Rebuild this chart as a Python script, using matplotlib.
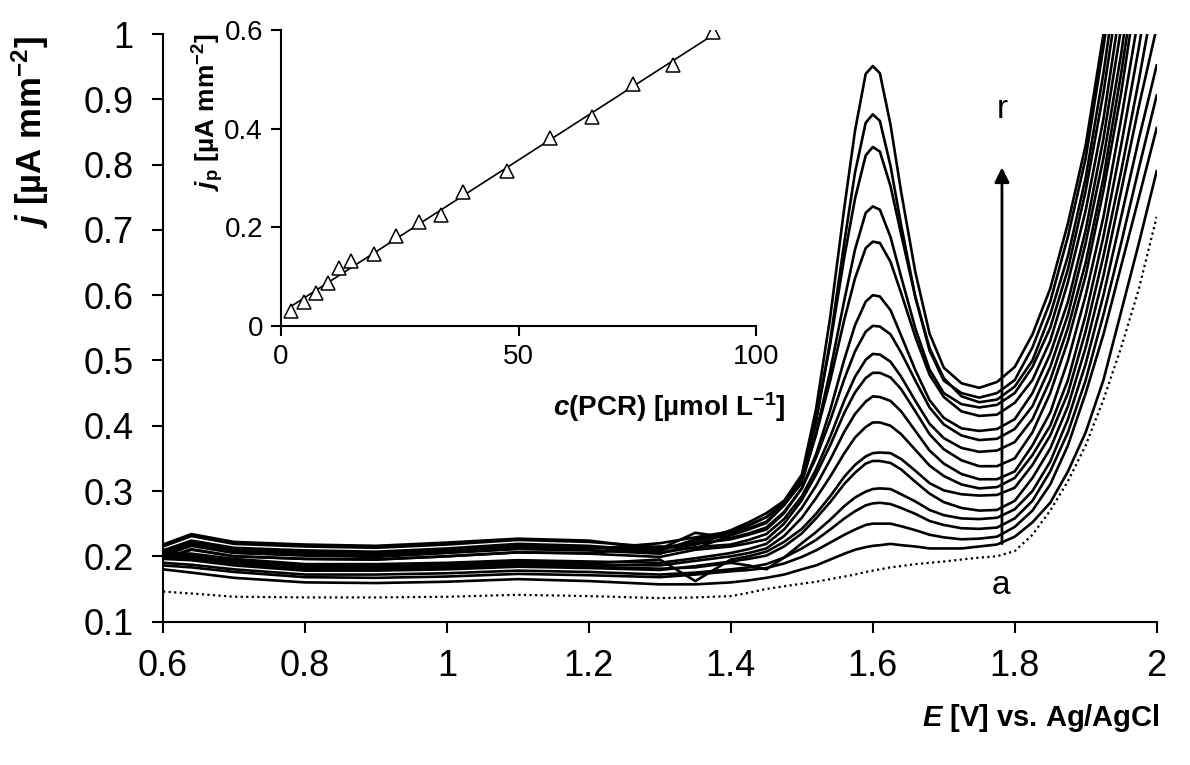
import numpy as np
import matplotlib
matplotlib.use("Agg")
import matplotlib.pyplot as plt
from matplotlib.ticker import FuncFormatter

plt.rcParams['font.family'] = ['Liberation Sans', 'DejaVu Sans']
plt.rcParams['mathtext.fontset'] = 'custom'
plt.rcParams['mathtext.rm'] = 'Liberation Sans:bold'
plt.rcParams['mathtext.it'] = 'Liberation Sans:italic:bold'
plt.rcParams['mathtext.bf'] = 'Liberation Sans:bold'

# potential grid [V]
E = [0.6, 0.64, 0.7, 0.8, 0.9, 1.0, 1.1, 1.2, 1.3, 1.35, 1.4, 1.425,
     1.45, 1.475, 1.5, 1.52, 1.54, 1.56, 1.575, 1.59, 1.6, 1.61, 1.625, 1.64, 1.66, 1.68, 1.7, 1.725, 1.75, 1.775,
     1.8, 1.825, 1.85, 1.875, 1.9, 1.925, 1.95, 1.975, 2.0]

# blank (a) and additions (b..r), current density [uA mm-2]
curve_a = [0.146, 0.143, 0.138, 0.137, 0.137, 0.138, 0.141, 0.139, 0.136, 0.137, 0.139, 0.144,
           0.150, 0.154, 0.158, 0.161, 0.165, 0.169, 0.172, 0.176, 0.178, 0.180, 0.183, 0.185, 0.188, 0.190, 0.192, 0.195, 0.198, 0.200,
           0.208, 0.233, 0.27, 0.315, 0.37, 0.44, 0.52, 0.61, 0.72]
curve_b = [0.180, 0.175, 0.167, 0.160, 0.159, 0.161, 0.165, 0.162, 0.157, 0.157, 0.160, 0.163,
           0.167, 0.172, 0.180, 0.186, 0.195, 0.204, 0.210, 0.214, 0.216, 0.217, 0.219, 0.217, 0.215, 0.212, 0.212, 0.212, 0.215, 0.218,
           0.230, 0.252, 0.282, 0.33, 0.39, 0.47, 0.575, 0.68, 0.79]
curve_c = [0.186, 0.183, 0.176, 0.168, 0.167, 0.169, 0.173, 0.171, 0.168, 0.172, 0.177, 0.179,
           0.182, 0.189, 0.199, 0.209, 0.221, 0.233, 0.241, 0.248, 0.250, 0.250, 0.250, 0.246, 0.240, 0.233, 0.229, 0.226, 0.227, 0.230,
           0.245, 0.27, 0.31, 0.37, 0.45, 0.54, 0.645, 0.75, 0.856]
curve_d = [0.190, 0.187, 0.180, 0.172, 0.172, 0.174, 0.178, 0.176, 0.172, 0.175, 0.180, 0.183,
           0.188, 0.198, 0.212, 0.225, 0.241, 0.258, 0.269, 0.278, 0.281, 0.282, 0.280, 0.274, 0.265, 0.254, 0.248, 0.243, 0.242, 0.244,
           0.258, 0.285, 0.33, 0.39, 0.47, 0.57, 0.68, 0.795, 0.906]
curve_e = [0.198, 0.196, 0.188, 0.180, 0.180, 0.182, 0.186, 0.184, 0.181, 0.183, 0.190, 0.186,
           0.180, 0.198, 0.220, 0.237, 0.256, 0.277, 0.290, 0.299, 0.303, 0.304, 0.303, 0.295, 0.284, 0.271, 0.263, 0.258, 0.257, 0.259,
           0.272, 0.30, 0.345, 0.41, 0.495, 0.60, 0.72, 0.84, 0.952]
curve_f = [0.196, 0.194, 0.186, 0.178, 0.178, 0.180, 0.184, 0.182, 0.179, 0.185, 0.192, 0.196,
           0.201, 0.215, 0.235, 0.258, 0.283, 0.311, 0.328, 0.342, 0.346, 0.346, 0.343, 0.333, 0.314, 0.296, 0.283, 0.274, 0.270, 0.271,
           0.285, 0.32, 0.365, 0.43, 0.52, 0.63, 0.76, 0.89, 1.01]
curve_g = [0.203, 0.201, 0.193, 0.185, 0.185, 0.187, 0.191, 0.189, 0.195, 0.162, 0.195, 0.200,
           0.207, 0.222, 0.242, 0.265, 0.292, 0.322, 0.340, 0.353, 0.358, 0.359, 0.358, 0.349, 0.331, 0.312, 0.301, 0.295, 0.293, 0.294,
           0.305, 0.34, 0.385, 0.45, 0.545, 0.66, 0.79, 0.93, 1.08]
curve_h = [0.201, 0.199, 0.191, 0.183, 0.183, 0.185, 0.189, 0.187, 0.186, 0.193, 0.200, 0.205,
           0.212, 0.231, 0.259, 0.289, 0.322, 0.358, 0.382, 0.398, 0.405, 0.405, 0.400, 0.387, 0.363, 0.339, 0.323, 0.310, 0.304, 0.306,
           0.32, 0.355, 0.40, 0.47, 0.57, 0.69, 0.83, 0.98, 1.15]
curve_i = [0.206, 0.204, 0.196, 0.188, 0.188, 0.190, 0.194, 0.192, 0.190, 0.197, 0.205, 0.211,
           0.219, 0.241, 0.274, 0.308, 0.348, 0.391, 0.418, 0.437, 0.445, 0.444, 0.438, 0.422, 0.392, 0.362, 0.342, 0.326, 0.318, 0.318,
           0.33, 0.37, 0.42, 0.50, 0.60, 0.72, 0.87, 1.03, 1.22]
curve_j = [0.196, 0.210, 0.200, 0.196, 0.195, 0.200, 0.206, 0.204, 0.199, 0.210, 0.215, 0.220,
           0.226, 0.250, 0.286, 0.325, 0.370, 0.420, 0.451, 0.473, 0.481, 0.481, 0.474, 0.456, 0.422, 0.387, 0.364, 0.347, 0.338, 0.338,
           0.35, 0.39, 0.45, 0.53, 0.63, 0.76, 0.91, 1.09, 1.28]
curve_k = [0.207, 0.222, 0.211, 0.207, 0.205, 0.210, 0.217, 0.214, 0.205, 0.214, 0.218, 0.225,
           0.234, 0.257, 0.292, 0.333, 0.383, 0.439, 0.475, 0.501, 0.510, 0.509, 0.498, 0.475, 0.438, 0.403, 0.381, 0.366, 0.360, 0.362,
           0.375, 0.41, 0.47, 0.55, 0.65, 0.78, 0.94, 1.12, 1.3]
curve_l = [0.201, 0.216, 0.205, 0.201, 0.199, 0.205, 0.211, 0.209, 0.204, 0.219, 0.226, 0.233,
           0.241, 0.266, 0.304, 0.351, 0.408, 0.472, 0.514, 0.544, 0.553, 0.552, 0.540, 0.512, 0.469, 0.428, 0.402, 0.385, 0.378, 0.380,
           0.395, 0.43, 0.49, 0.57, 0.68, 0.81, 0.97, 1.16, 1.35]
curve_m = [0.218, 0.234, 0.222, 0.218, 0.216, 0.221, 0.227, 0.224, 0.211, 0.236, 0.228, 0.235,
           0.244, 0.268, 0.304, 0.356, 0.424, 0.502, 0.554, 0.590, 0.600, 0.598, 0.577, 0.538, 0.485, 0.439, 0.412, 0.396, 0.392, 0.395,
           0.41, 0.45, 0.51, 0.59, 0.70, 0.84, 1.01, 1.2, 1.4]
curve_n = [0.196, 0.211, 0.200, 0.196, 0.195, 0.200, 0.206, 0.205, 0.215, 0.212, 0.232, 0.241,
           0.251, 0.278, 0.315, 0.386, 0.469, 0.563, 0.626, 0.672, 0.682, 0.680, 0.651, 0.603, 0.536, 0.478, 0.444, 0.422, 0.415, 0.417,
           0.435, 0.47, 0.53, 0.62, 0.73, 0.87, 1.05, 1.25, 1.45]
curve_o = [0.209, 0.224, 0.213, 0.209, 0.207, 0.212, 0.219, 0.216, 0.208, 0.226, 0.235, 0.243,
           0.253, 0.279, 0.312, 0.388, 0.484, 0.593, 0.670, 0.726, 0.736, 0.731, 0.689, 0.628, 0.549, 0.486, 0.450, 0.433, 0.428, 0.432,
           0.45, 0.49, 0.55, 0.64, 0.76, 0.91, 1.09, 1.3, 1.5]
curve_p = [0.203, 0.219, 0.207, 0.203, 0.202, 0.207, 0.213, 0.211, 0.220, 0.229, 0.238, 0.248,
           0.260, 0.283, 0.320, 0.410, 0.525, 0.659, 0.748, 0.814, 0.827, 0.820, 0.767, 0.693, 0.597, 0.519, 0.473, 0.445, 0.436, 0.440,
           0.46, 0.50, 0.57, 0.66, 0.78, 0.94, 1.13, 1.35, 1.55]
curve_q = [0.215, 0.231, 0.219, 0.215, 0.213, 0.218, 0.225, 0.222, 0.214, 0.218, 0.236, 0.247,
           0.260, 0.280, 0.315, 0.405, 0.530, 0.682, 0.788, 0.864, 0.877, 0.867, 0.798, 0.707, 0.597, 0.515, 0.469, 0.450, 0.443, 0.450,
           0.47, 0.52, 0.59, 0.69, 0.81, 0.98, 1.17, 1.38, 1.6]
curve_r = [0.206, 0.222, 0.210, 0.206, 0.205, 0.210, 0.216, 0.214, 0.212, 0.222, 0.240, 0.252,
           0.266, 0.285, 0.325, 0.425, 0.566, 0.735, 0.852, 0.939, 0.951, 0.940, 0.861, 0.758, 0.635, 0.541, 0.489, 0.465, 0.458, 0.467,
           0.49, 0.54, 0.61, 0.71, 0.83, 1.0, 1.2, 1.4, 1.6]

# inset: calibration
conc = [2.2, 4.8, 7.3, 9.9, 12.2, 14.7, 19.5, 24.3, 29.0, 33.7, 38.4, 47.6, 56.7, 65.4, 74.1, 82.5, 90.9]
jp = [0.031, 0.048, 0.066, 0.088, 0.117, 0.131, 0.145, 0.182, 0.211, 0.225, 0.272,
      0.315, 0.382, 0.424, 0.490, 0.530, 0.595]

fmt = FuncFormatter(lambda v, pos: f"{v:g}")

fig = plt.figure(figsize=(11.9, 7.65), dpi=100)
ax = fig.add_axes([0.137, 0.1875, 0.835, 0.768])

ax.plot(E, curve_a, color='black', lw=1.6, linestyle=(0, (1, 1.5)))
solid = [curve_b, curve_c, curve_d, curve_e, curve_f, curve_g, curve_h, curve_i, curve_j,
         curve_k, curve_l, curve_m, curve_n, curve_o, curve_p, curve_q, curve_r]
for c in solid:
    ax.plot(E, c, color='black', lw=1.9, solid_joinstyle='round')

ax.set_xlim(0.6, 2.0)
ax.set_ylim(0.1, 1.0)
ax.set_xticks(np.arange(0.6, 2.01, 0.2))
ax.set_yticks(np.arange(0.1, 1.01, 0.1))
ax.xaxis.set_major_formatter(fmt)
ax.yaxis.set_major_formatter(fmt)
for s in ['top', 'right']:
    ax.spines[s].set_visible(False)
for s in ['left', 'bottom']:
    ax.spines[s].set_linewidth(1.5)
ax.tick_params(axis='both', direction='out', length=8, width=1.5, labelsize=26)
ax.tick_params(axis='x', pad=12)
ax.tick_params(axis='y', pad=13)

# arrow a -> r
ax.annotate('', xy=(1.782, 0.80), xytext=(1.782, 0.215),
            arrowprops=dict(arrowstyle='-|>', color='black', lw=2, mutation_scale=22))
ax.text(1.782, 0.885, 'r', fontsize=24, ha='center', va='center')
ax.text(1.78, 0.155, 'a', fontsize=24, ha='center', va='center')

fig.text(30 / 1190, 1 - 132 / 765, r'$\mathit{j}$ [µA mm$^{-2}$]', rotation=90,
         fontsize=25, fontweight='bold', ha='center', va='center')
fig.text(1160 / 1190, 1 - 718 / 765, r'$\mathit{E}$ [V] vs. Ag/AgCl',
         fontsize=21, fontweight='bold', ha='right', va='center')

# inset
ins = fig.add_axes([281 / 1190, 1 - 326 / 765, 475 / 1190, 296 / 765])
ins.patch.set_alpha(0)
fit = np.polyfit(conc, jp, 1)
xf = np.array([conc[0], conc[-1]])
ins.plot(xf, np.polyval(fit, xf), color='black', lw=1.2)
ins.plot(conc, jp, linestyle='none', marker='^', markersize=10, markerfacecolor='white',
         markeredgecolor='black', markeredgewidth=1.1)
ins.set_xlim(0, 100)
ins.set_ylim(0, 0.6)
ins.set_xticks([0, 50, 100])
ins.set_yticks([0, 0.2, 0.4, 0.6])
ins.xaxis.set_major_formatter(fmt)
ins.yaxis.set_major_formatter(fmt)
for s in ['top', 'right']:
    ins.spines[s].set_visible(False)
for s in ['left', 'bottom']:
    ins.spines[s].set_linewidth(1.5)
ins.tick_params(axis='both', direction='out', length=7, width=1.5, labelsize=20)
ins.tick_params(axis='x', pad=6)
ins.tick_params(axis='y', pad=6)

fig.text(785 / 1190, 1 - 407 / 765, r'$\mathit{c}$(PCR) [µmol L$^{-1}$]',
         fontsize=20, fontweight='bold', ha='right', va='center')
fig.text(208 / 1190, 1 - 112 / 765, r'$\mathit{j}_\mathrm{p}$ [µA mm$^{-2}$]', rotation=90,
         fontsize=19, fontweight='bold', ha='center', va='center')

fig.savefig('out.png', dpi=100)
